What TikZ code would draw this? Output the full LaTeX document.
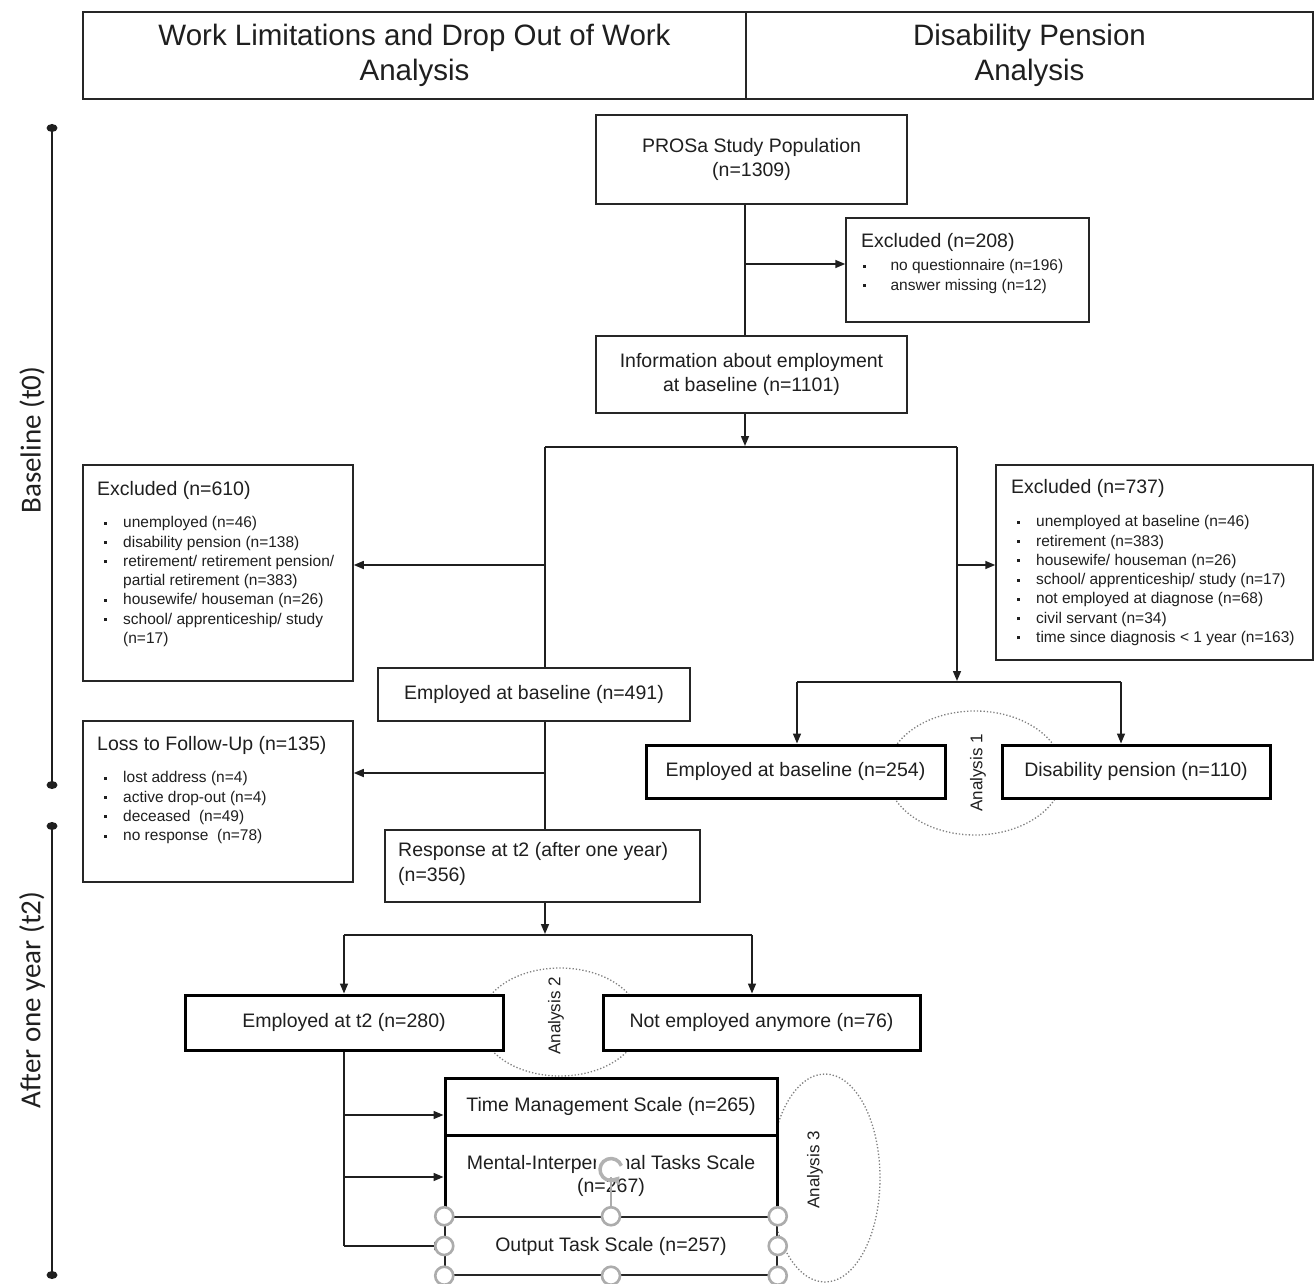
\documentclass[tikz,border=0pt]{standalone}
\usepackage{fontspec}
\setmainfont{Liberation Sans}
\newfontfamily\timefont{Carlito}
\usetikzlibrary{arrows.meta,shapes.geometric,calc}
\newcommand\bl[1][20pt]{\makebox[#1][l]{\hspace*{0.5pt}\rule[0.2em]{3pt}{3pt}}}
\begin{document}
\begin{tikzpicture}[x=1pt,y=-1pt,
 thinbox/.style={draw=black!85, line width=1.5pt, fill=white, inner sep=0pt},
 thickbox/.style={draw=black, line width=3pt, fill=white, inner sep=0pt},
 main/.style={font=\fontsize{19.5}{23.5}\selectfont, text=black!88},
 head/.style={font=\fontsize{19.5}{23.5}\selectfont, text=black!88, inner sep=0pt},
 small/.style={font=\fontsize{15.5}{19.3}\selectfont, text=black!88, inner sep=0pt, align=left},
 conn/.style={line width=1.5pt, draw=black!88},
 arr/.style={conn, -{Triangle[length=10pt,width=8pt]}},
 anal/.style={ellipse, draw=gray, line width=1.3pt, dotted, inner sep=0pt},
 analtxt/.style={rotate=90, font=\fontsize{17}{20}\selectfont, text=black!88},
 handle/.style={circle, draw=gray!65, line width=2.6pt, fill=white, minimum size=18pt, inner sep=0pt},
 tl/.style={line width=2.5pt, draw=black!88},
 tdot/.style={fill=black!88},
 timetxt/.style={rotate=90, font=\timefont\fontsize{29}{31}\selectfont, text=black!88},
]
\useasboundingbox (0,0) rectangle (1315,1284);
\fill[white] (0,0) rectangle (1315,1284);

% header
\node[draw=black!85, line width=1.5pt, minimum width=663pt, minimum height=87pt, inner sep=0pt, align=center,
  font=\fontsize{29.5}{35}\selectfont, text=black!88] (hl) at (414.5,55.5) {Work Limitations and Drop Out of Work\\Analysis};
\node[draw=black!85, line width=1.5pt, minimum width=567pt, minimum height=87pt, inner sep=0pt, align=center,
  font=\fontsize{29.5}{35}\selectfont, text=black!88] (hr) at (1029.5,55.5) {Disability Pension\\Analysis};

% timeline
\coordinate (t1) at (52,128);
\coordinate (t2) at (52,785);
\coordinate (t3) at (52,826);
\coordinate (t4) at (52,1275);
\draw[tl] (t1) -- (t2);
\draw[tl] (t3) -- (t4);
\foreach \p in {t1,t2,t3,t4} \fill[tdot] (\p) ellipse (5.5pt and 4pt);
\node[timetxt] (blab) at (32,440) {Baseline (t0)};
\node[timetxt] (alab) at (32,1000) {After one year (t2)};

% analysis ellipses (behind boxes)
\node[anal, minimum width=176pt, minimum height=124pt] (a1) at (975,773) {};
\node[anal, minimum width=160pt, minimum height=108pt] (a2) at (560,1022) {};
\node[anal, minimum width=110pt, minimum height=208pt] (a3) at (825,1178) {};

% main boxes
\node[thinbox, main, minimum width=311pt, minimum height=89pt, align=center] (pop) at (751.5,159.5) {PROSa Study Population\\(n=1309)};
\node[thinbox, minimum width=243pt, minimum height=104pt] (ex208) at (967.5,270) {};
\node[head, anchor=west] (ex208h) at (861,242) {Excluded (n=208)};
\node[small, anchor=north west] (ex208l) at (862,259.3) {\bl[24pt] no questionnaire (n=196)\\\bl[24pt] answer missing (n=12)};

\node[thinbox, main, minimum width=311pt, minimum height=77pt, align=center] (info) at (751.5,374.5) {Information about employment\\at baseline (n=1101)};

\node[thinbox, minimum width=270pt, minimum height=216pt] (ex610) at (218,573) {};
\node[head, anchor=west] (ex610h) at (97,490) {Excluded (n=610)};
\node[small, anchor=north west] (ex610l) at (103,516.3) {\bl unemployed (n=46)\\\bl disability pension (n=138)\\\bl retirement/ retirement pension/\\\hspace*{20pt}partial retirement (n=383)\\\bl housewife/ houseman (n=26)\\\bl school/ apprenticeship/ study\\\hspace*{20pt}(n=17)};

\node[thinbox, minimum width=317pt, minimum height=195pt] (ex737) at (1154.5,562.5) {};
\node[head, anchor=west] (ex737h) at (1011,488) {Excluded (n=737)};
\node[small, anchor=north west] (ex737l) at (1016,515.3) {\bl unemployed at baseline (n=46)\\\bl retirement (n=383)\\\bl housewife/ houseman (n=26)\\\bl school/ apprenticeship/ study (n=17)\\\bl not employed at diagnose (n=68)\\\bl civil servant (n=34)\\\bl time since diagnosis < 1 year (n=163)};

\node[thinbox, main, minimum width=312pt, minimum height=53pt] (emp491) at (534,694.5) {Employed at baseline (n=491)};

\node[thinbox, minimum width=270pt, minimum height=161pt] (lfu) at (218,801.5) {};
\node[head, anchor=west] (lfuh) at (97,745) {Loss to Follow-Up (n=135)};
\node[small, anchor=north west] (lful) at (103,771.3) {\bl lost address (n=4)\\\bl active drop-out (n=4)\\\bl deceased\ \ (n=49)\\\bl no response\ \ (n=78)};

\node[thinbox, minimum width=315pt, minimum height=72pt] (resp) at (542.5,866) {};
\node[main, inner sep=0pt, anchor=west, align=left, font=\fontsize{19.5}{25}\selectfont] (respt) at (398,864) {Response at t2 (after one year)\\(n=356)};

\node[thickbox, main, minimum width=299pt, minimum height=53pt] (emp254) at (795.5,771.5) {Employed at baseline (n=254)};
\node[thickbox, main, minimum width=268pt, minimum height=53pt] (dis110) at (1136,771.5) {Disability pension (n=110)};

\node[thickbox, main, minimum width=318pt, minimum height=55pt] (emp280) at (344,1022.5) {Employed at t2 (n=280)};
\node[thickbox, main, minimum width=317pt, minimum height=55pt] (notemp) at (761.5,1022.5) {Not employed anymore (n=76)};

\node[thickbox, main, minimum width=332pt, minimum height=57pt] (tms) at (611,1106.5) {Time Management Scale (n=265)};
\node[thickbox, main, minimum width=332pt, minimum height=82pt, align=center] (mits) at (611,1176) {Mental-Interpersonal Tasks Scale\\(n=267)};
\node[thinbox, main, minimum width=332pt, minimum height=58pt] (ots) at (611,1246) {Output Task Scale (n=257)};

% analysis labels
\node[analtxt] (a1t) at (978,773) {Analysis 1};
\node[analtxt] (a2t) at (556,1016) {Analysis 2};
\node[analtxt] (a3t) at (815,1170) {Analysis 3};

% connectors
\coordinate (j1) at (745,264);
\draw[conn] (pop.south -| j1) -- (info.north -| j1);
\draw[arr] (j1) -- (ex208.west |- j1);

\coordinate (s1) at (745,446);
\coordinate (sL) at (545,447);
\coordinate (sR) at (957,447);
\draw[arr] (info.south -| s1) -- (s1);
\draw[conn] (sL) -- (sR);
\draw[conn] (sL) -- (emp491.north -| sL);
\coordinate (bL) at (545,565);
\draw[arr] (bL) -- (ex610.east |- bL);
\coordinate (bR) at (957,565);
\draw[arr] (bR) -- (ex737.west |- bR);
\coordinate (sR2) at (957,681);
\draw[arr] (sR) -- (sR2);
\coordinate (hL) at (797,682);
\coordinate (hR) at (1121,682);
\draw[conn] (hL) -- (hR);
\draw[arr] (hL) -- (emp254.north -| hL);
\draw[arr] (hR) -- (dis110.north -| hR);

\draw[conn] (emp491.south -| sL) -- (resp.north -| sL);
\coordinate (bL2) at (545,773);
\draw[arr] (bL2) -- (lfu.east |- bL2);

\coordinate (s2) at (545,934);
\coordinate (s2L) at (344,935);
\coordinate (s2R) at (752,935);
\draw[arr] (resp.south -| s2) -- (s2);
\draw[conn] (s2L) -- (s2R);
\draw[arr] (s2L) -- (emp280.north -| s2L);
\draw[arr] (s2R) -- (notemp.north -| s2R);

\coordinate (v1) at (344,1115);
\coordinate (v2) at (344,1177);
\coordinate (v3) at (344,1246);
\draw[conn] (emp280.south -| v1) -- (v3);
\draw[arr] (v1) -- (tms.west |- v1);
\draw[arr] (v2) -- (mits.west |- v2);
\draw[arr] (v3) -- (ots.west);

% selection handles
\coordinate (rot) at (611,1162);
\draw[gray!65, line width=2pt] (ots.north) -- ($(rot)+(0,14)$);
\fill[white] (rot) circle (15pt);
\draw[gray!60, line width=3.5pt, -{Triangle[length=7pt,width=10pt]}] ($(rot)+(20:11)$) arc[start angle=20, end angle=320, radius=11pt];
\foreach \a in {north west,north,north east,west,east,south west,south,south east}
  \node[handle] at (ots.\a) {};
\end{tikzpicture}
\end{document}
